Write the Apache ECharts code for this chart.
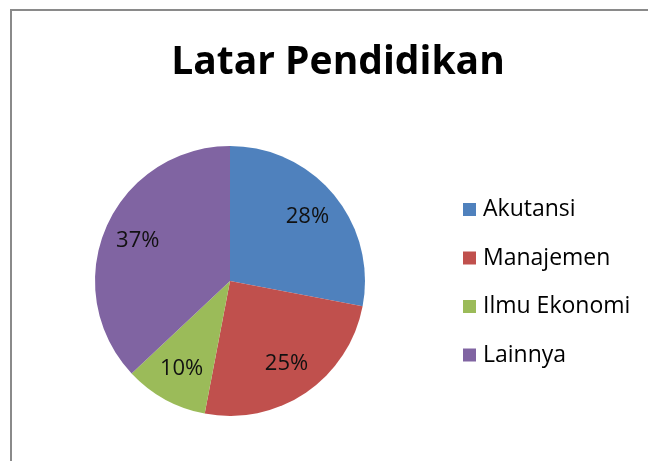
<!DOCTYPE html>
<html>
<head>
<meta charset="utf-8">
<script src="https://cdn.jsdelivr.net/npm/echarts@6/dist/echarts.min.js"></script>
<style>
  html, body { margin: 0; padding: 0; background: #fff; }
  #chart { width: 648px; height: 461px; }
</style>
</head>
<body>
<div id="chart"></div>
<script>
// data
const categories = ['Akutansi', 'Manajemen', 'Ilmu Ekonomi', 'Lainnya'];
const shares = [28, 25, 10, 37];
const colors = ['#4F81BD', '#C0504D', '#9BBB59', '#8064A2'];

const fontFamily = '"Open Sans", "Noto Sans", sans-serif';

const pieData = categories.map((name, i) => ({
    name,
    value: shares[i],
    itemStyle: { color: colors[i] }
}));

const chart = echarts.init(document.getElementById('chart'), null, { renderer: 'canvas' });

chart.setOption({
    backgroundColor: '#fff',
    animation: false,
    title: {
        text: 'Latar Pendidikan',
        left: 333,
        top: 38,
        textAlign: 'center',
        textStyle: {
            fontFamily,
            fontWeight: 'bold',
            fontSize: 39,
            color: '#000'
        }
    },
    legend: {
        orient: 'vertical',
        left: 458,
        top: 193,
        itemWidth: 13,
        itemHeight: 13,
        itemGap: 25.5,
        icon: 'rect',
        data: categories,
        textStyle: {
            fontFamily,
            fontSize: 23,
            lineHeight: 23,
            color: '#000',
            padding: [0, 0, 0, 2]
        }
    },
    graphic: [{
        type: 'rect',
        shape: { x: 11, y: 10, width: 700, height: 500 },
        style: { fill: 'none', stroke: '#8a8a8a', lineWidth: 2 },
        silent: true,
        z: 100
    }],
    series: [
        {
            type: 'pie',
            center: [230, 281],
            radius: [0, 135],
            startAngle: 90,
            clockwise: true,
            data: pieData,
            label: { show: false },
            labelLine: { show: false },
            emphasis: { disabled: true }
        },
        {
            // label-only ring so the percentages sit further out, like the original
            type: 'pie',
            center: [230, 281],
            radius: [60, 135],
            startAngle: 90,
            clockwise: true,
            silent: true,
            data: pieData.map(d => ({ name: d.name, value: d.value, itemStyle: { color: 'transparent' } })),
            label: {
                show: true,
                position: 'inside',
                formatter: p => p.value + '%',
                fontFamily,
                fontSize: 22,
                color: '#111'
            },
            labelLine: { show: false },
            emphasis: { disabled: true }
        }
    ]
});
</script>
</body>
</html>
